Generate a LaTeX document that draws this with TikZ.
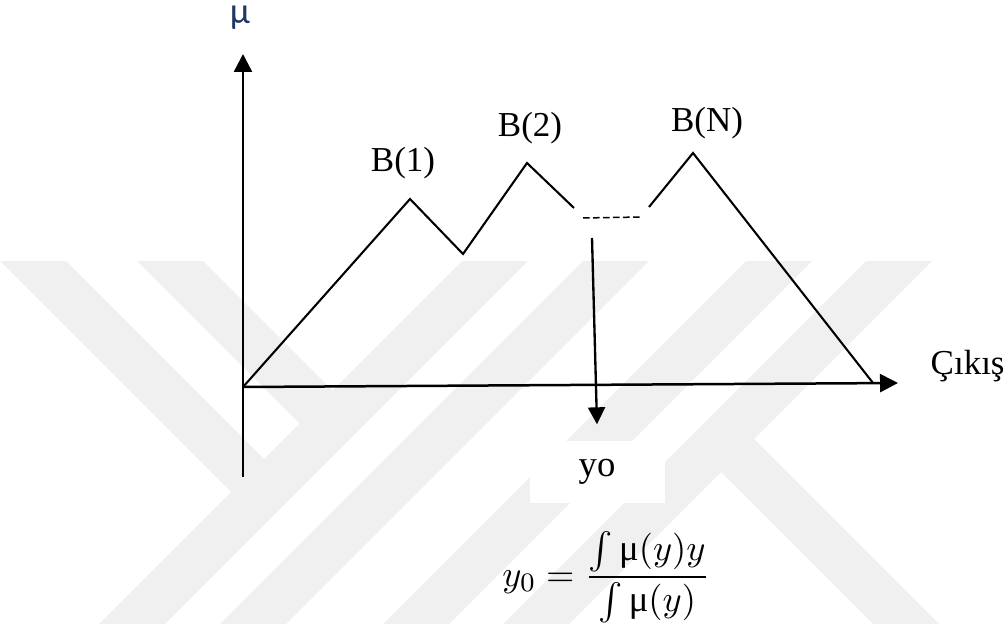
\documentclass[tikz,border=0pt]{standalone}
\usepackage{amsmath}
\usepackage{fontspec}
\setmainfont{Liberation Serif}
\newfontfamily\calfont{Carlito}
\usepackage{tikz}
\usetikzlibrary{arrows.meta,positioning,calc}
\definecolor{muBlue}{RGB}{31,56,100}
\definecolor{wmGray}{RGB}{240,240,240}

\begin{document}
\begin{tikzpicture}[
  x=0.3pt,y=-0.3pt,
  font=\fontsize{10.5}{12}\selectfont,
  axisline/.style={line width=0.75pt,-{Triangle[length=5.4pt,width=5.4pt]}},
  curveline/.style={line width=0.62pt,line join=miter},
  gapline/.style={line width=0.45pt,dash pattern=on 2pt off 1pt},
  flow/.style={line width=0.7pt,-{Triangle[length=5.1pt,width=5.1pt]}},
  wband/.style={draw=wmGray,line width=14pt,line join=miter}
]
  \useasboundingbox (0,0) rectangle (1008,624);

  % watermark bands
  \begin{scope}
    \clip (0,262) rectangle (1008,624);
    \draw[wband] (14,242) -- (264,492);
    \draw[wband] (151,242) -- (332,423);
    \draw[wband] (556,200) -- (56,700);
    \draw[wband] (677,200) -- (177,700);
    \draw[wband] (840,200) -- (340,700);
    \draw[wband] (960,200) -- (460,700);
    \draw[wband] (721,439) -- (1008,726);
  \end{scope}

  % axes
  \coordinate (O) at (243,387);
  \coordinate (ytop) at (243,54);
  \coordinate (ybot) at (243,477);
  \coordinate (xend) at (898,383);
  \draw[axisline] (ybot) -- (ytop);
  \draw[axisline] (O) -- (xend);

  % output sets
  \coordinate (b1) at (410,199);
  \coordinate (v1) at (463,254);
  \coordinate (b2) at (527,163);
  \coordinate (c1) at (574,208);
  \coordinate (c2) at (649,207);
  \coordinate (bN) at (693,153);
  \coordinate (xN) at (873,383);
  \draw[curveline] (O) -- (b1) -- (v1) -- (b2) -- (c1);
  \draw[curveline] (c2) -- (bN) -- (xN);
  \coordinate (g1) at (583,218);
  \coordinate (g2) at (642,217);
  \draw[gapline] (g1) -- (g2);

  \node[text=muBlue,font=\calfont\fontsize{11}{12}\selectfont] (mu) at (240,18) {μ};
  \node (lb1) at (403,163) {B(1)};
  \node (lb2) at (530,128) {B(2)};
  \node (lbN) at (707,123) {B(N)};
  \node[anchor=base west,inner sep=0pt] (cikis) at (930,375) {Çıkış};

  % centre of gravity
  \node[fill=white,minimum width=40.5pt,minimum height=18.6pt,
    font=\fontsize{11}{13}\selectfont] (yo) at (597,472) {yo};
  \coordinate (cog) at (592,238);
  \draw[flow] (cog) -- ([yshift=4.8pt]yo.north);
  \node[font=\fontsize{11}{13}\selectfont] (yform) at (606,577)
    {$y_0=\dfrac{\int\text{μ}(y)y}{\int\text{μ}(y)}$};
\end{tikzpicture}
\end{document}
